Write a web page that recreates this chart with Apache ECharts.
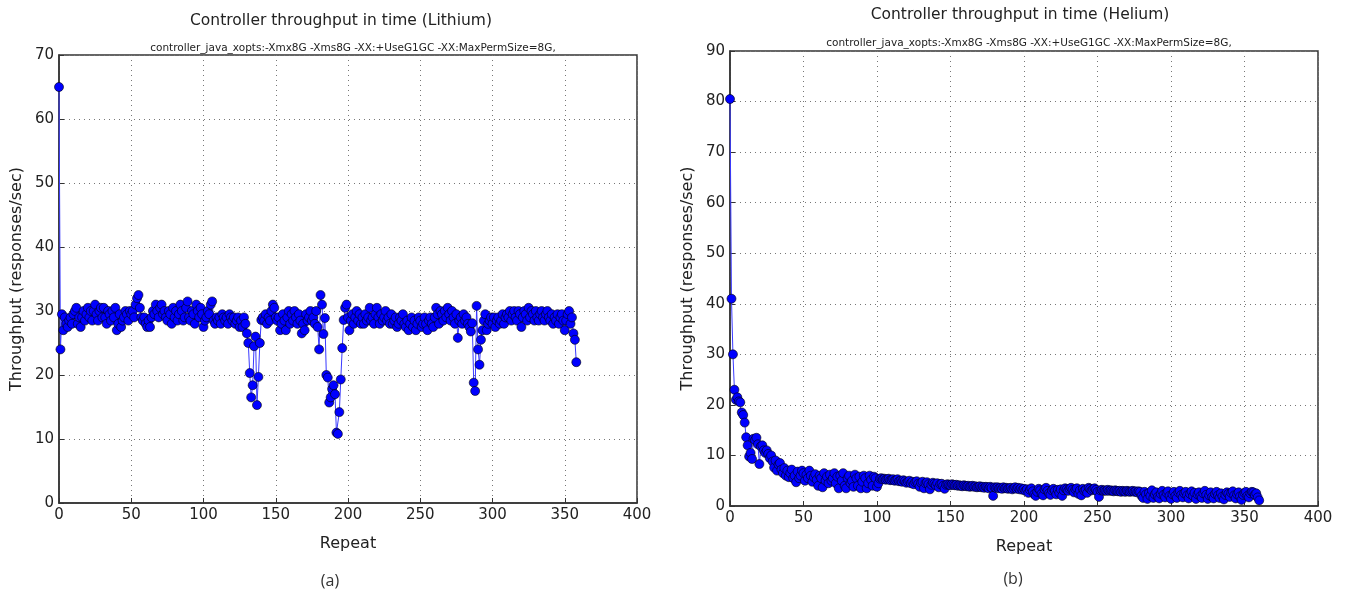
<!DOCTYPE html>
<html>
<head>
<meta charset="utf-8">
<script src="https://cdn.jsdelivr.net/npm/echarts@6/dist/echarts.min.js"></script>
<style>
html,body{margin:0;padding:0;background:#fff;}
#chart{width:1346px;height:591px;}
</style>
</head>
<body>
<div id="chart"></div>
<script>
// Lithium throughput (responses/sec) per repeat, index = repeat
const lithium = [
65, 24, 29.5, 27, 29, 28, 27.5, 28.5, 29, 28,
29.5, 30, 30.5, 28, 29, 27.5, 29, 30, 28.5, 29.5,
30.5, 29, 30, 28.5, 30, 31, 29.5, 28.5, 30, 30.5,
29, 30.5, 29, 28, 30, 29.5, 28.5, 30, 29, 30.5,
27, 28, 29.5, 27.5, 28.5, 29, 30, 29.5, 28.5, 30,
29.5, 30, 29, 31, 32, 32.5, 30.5, 29, 28.5, 29,
28, 27.5, 28.5, 27.5, 29, 30, 29.5, 31, 30, 29,
30.5, 31, 29.5, 30, 29, 28.5, 30, 29.5, 28, 30.5,
29, 30, 28.5, 29.5, 31, 30, 28.5, 29, 30.5, 31.5,
29, 28.5, 30, 29.5, 28, 31, 30, 29, 30.5, 29.5,
27.5, 28.5, 29, 30, 29.5, 31, 31.5, 28.5, 28, 29,
28.5, 29, 28, 29.5, 29, 28.5, 29, 28, 29.5, 29,
28.5, 29, 28, 28.5, 29, 27.5, 28.5, 27.5, 29, 28,
26.5, 25, 20.3, 16.5, 18.4, 24.5, 26, 15.3, 19.7, 25,
28.6, 29, 28.5, 29.5, 28, 29, 28.5, 30, 31, 30.5,
29, 28.5, 29, 27, 28, 29.5, 28.5, 27, 29, 30,
28, 29.5, 28.5, 30, 29, 28, 29.5, 28.5, 26.5, 28,
27, 29.5, 28.5, 29, 30, 28.5, 29, 28, 30, 27.5,
24, 32.5, 31, 26.4, 28.9, 20, 19.6, 15.7, 16.5, 17.8,
18.4, 17, 11, 10.8, 14.2, 19.3, 24.2, 28.6, 30.5, 31,
29, 27, 28.5, 29.5, 28, 29, 30, 28.5, 29.5, 28,
29, 28, 29.5, 28.5, 29, 30.5, 28.5, 29, 28, 29.5,
30.5, 29, 28, 29.5, 28.5, 29, 30, 28.5, 29, 28,
29.5, 28, 28.5, 29, 27.5, 28, 29, 28.5, 29.5, 28,
27.5, 28.5, 27, 28, 29, 27.5, 28.5, 27, 28, 29,
28.5, 27.5, 28, 29, 28, 27, 28.5, 29, 28, 27.5,
29, 30.5, 29.5, 28, 30, 29.5, 28.5, 30, 29, 30.5,
29.5, 28.5, 30, 29, 28, 29.5, 25.8, 28.5, 29, 28,
29.5, 28.5, 29, 28, 27.5, 26.8, 28.1, 18.8, 17.5, 30.8,
24, 21.6, 25.5, 27, 28.5, 29.5, 27, 28, 28.5, 29,
28, 29, 27.5, 28.5, 29, 28, 28.5, 29.5, 28, 29,
29.5, 29, 30, 28.5, 29.5, 30, 29, 28.5, 30, 29.5,
27.5, 29, 30, 29.5, 28.5, 30.5, 29, 30, 29.5, 28.5,
30, 29, 28.5, 29.5, 30, 29, 28.5, 29.5, 30, 29,
28.5, 29.5, 28, 29, 28.5, 29.5, 28, 29, 29.5, 28.5,
27, 28.5, 29.5, 30, 28, 29, 26.5, 25.5, 22
];

// Helium throughput (responses/sec) per repeat, index = repeat
const helium = [
80.5, 41, 30, 23, 21, 21.5, 20.7, 20.5, 18.5, 18,
16.5, 13.6, 12, 9.8, 10.5, 9.3, 13.3, 13, 13.5, 12.2,
8.3, 11.8, 12, 11, 10.5, 11, 10.3, 9.5, 10, 8.8,
7.6, 9, 7, 8.2, 8.5, 7.2, 6.5, 7.5, 6, 7,
5.7, 6.5, 7.2, 5.5, 6, 4.7, 6.8, 5.5, 6, 7,
6.5, 5, 6.2, 5.5, 7, 6, 4.8, 5.7, 6.3, 5.2,
4, 6, 5.5, 3.7, 6.5, 5, 5.8, 4.5, 6.2, 5,
5.5, 6.5, 4.5, 5.8, 3.5, 6, 5, 6.5, 4, 3.5,
5.5, 6, 4.5, 5, 3.8, 6.2, 5.5, 4, 5.8, 3.5,
4.8, 6, 5.5, 3.5, 4.5, 6, 5.2, 4, 5.8, 5.5,
3.8, 4.5, 5.4, 5.5, 5.3, 5.4, 5.2, 5.3, 5.4, 5.1,
5.2, 5.3, 5, 5.1, 5.3, 4.9, 5, 4.8, 5.1, 4.9,
4.6, 4.8, 5, 4.5, 4.8, 4.3, 4.7, 4.9, 4.4, 3.8,
4.6, 4.8, 3.5, 4.5, 4.7, 4.3, 3.3, 4.2, 4.6, 4.4,
4.1, 4.5, 3.7, 4.3, 4.4, 4, 3.4, 4.2, 4.3, 4.2,
4.1, 4.3, 4.2, 4.1, 4.2, 4, 4.1, 4, 3.9, 4.1,
4, 3.9, 4, 3.8, 3.9, 4, 3.8, 3.9, 3.7, 3.8,
3.9, 3.7, 3.8, 3.6, 3.8, 3.7, 3.5, 3.8, 3.6, 2,
3.7, 3.6, 3.7, 3.5, 3.6, 3.4, 3.7, 3.5, 3.6, 3.4,
3.5, 3.6, 3.3, 3.5, 3.7, 3.4, 3.6, 3.3, 3.5, 3.2,
3.4, 3, 3.3, 2.6, 3.2, 3.5, 2.9, 2.3, 2, 2.8,
3.4, 3.1, 2.4, 2.1, 3.3, 3.6, 3, 2.5, 2.2, 3.1,
3.4, 3, 2.3, 3.2, 2.6, 3.3, 2, 3.1, 3.5, 3.3,
3, 3.4, 3.6, 3.2, 2.7, 3.3, 3.5, 2.4, 3.1, 2.1,
3.4, 3, 3.2, 2.6, 3.6, 3.4, 3.1, 3.3, 3.5, 3.2,
2.8, 1.8, 3.1, 3.2, 3, 3.1, 3, 3.2, 3, 3.1,
3, 2.9, 3.1, 3, 2.9, 3, 2.8, 3, 2.9, 2.8,
3, 2.9, 2.8, 2.9, 3, 2.8, 2.9, 2.7, 2.9, 2.8,
2, 1.6, 2.8, 2.3, 1.4, 2.6, 2, 3.1, 1.6, 2.3,
2.7, 1.8, 1.5, 2.4, 3, 2.2, 1.7, 2.6, 2.9, 2,
1.4, 2.3, 2.8, 2, 1.6, 2.7, 3, 2.2, 1.7, 2.5,
2.8, 2.1, 1.5, 2.4, 2.9, 2, 2.6, 1.4, 2.3, 2.7,
1.9, 1.6, 2.5, 3, 2.2, 1.4, 2.1, 2.7, 1.8, 1.5,
2.4, 2.8, 2.1, 1.6, 2.5, 1.9, 1.3, 2.2, 2.7, 2.4,
1.8, 2.6, 2.9, 2.1, 1.5, 2.3, 2.7, 1.9, 1.2, 2.2,
2.6, 2.8, 2, 1.7, 2.5, 2.8, 2.7, 2.2, 2.5, 1.7,
1.1
];

const titles = ['Controller throughput in time (Lithium)', 'Controller throughput in time (Helium)'];
const subtitle = 'controller_java_xopts:-Xmx8G -Xms8G -XX:+UseG1GC -XX:MaxPermSize=8G,';
const captions = ['(a)', '(b)'];
const xLabel = 'Repeat';
const yLabel = 'Throughput (responses/sec)';

const FONT = 'DejaVu Sans';
const chart = echarts.init(document.getElementById('chart'), null, {renderer: 'canvas'});

function pairs(arr) { return arr.map((v, i) => [i, v]); }

function xAxis(gi) {
  return {
    gridIndex: gi, type: 'value', min: 0, max: 400, interval: 50,
    name: xLabel, nameLocation: 'middle', nameGap: 33,
    nameTextStyle: {fontFamily: FONT, fontSize: 16, color: '#222'},
    axisLine: {show: true, lineStyle: {color: '#333', width: 1.5}},
    axisTick: {show: true, inside: true, length: 5, lineStyle: {color: '#333'}},
    axisLabel: {fontFamily: FONT, fontSize: 15, color: '#222', margin: 5},
    splitLine: {show: true, lineStyle: {type: [1, 4], color: '#777', width: 1}}
  };
}
function yAxis(gi, max, gap) {
  return {
    gridIndex: gi, type: 'value', min: 0, max: max, interval: 10,
    name: yLabel, nameLocation: 'middle', nameGap: gap, nameRotate: 90,
    nameTextStyle: {fontFamily: FONT, fontSize: 16, color: '#222'},
    axisLine: {show: true, lineStyle: {color: '#333', width: 1.5}},
    axisTick: {show: true, inside: true, length: 5, lineStyle: {color: '#333'}},
    axisLabel: {fontFamily: FONT, fontSize: 15, color: '#222', margin: 5},
    splitLine: {show: true, lineStyle: {type: [1, 4], color: '#777', width: 1}}
  };
}
function series(gi, data) {
  return {
    type: 'line', xAxisIndex: gi, yAxisIndex: gi, data: pairs(data),
    symbol: 'circle', symbolSize: 9, showAllSymbol: true, clip: true,
    lineStyle: {color: '#3a3aff', width: 1},
    itemStyle: {color: '#0000ff', borderColor: '#000', borderWidth: 0.6},
    animation: false, silent: true
  };
}

chart.setOption({
  backgroundColor: '#fff',
  animation: false,
  title: [
    {text: titles[0], left: 336, top: 8, textAlign: 'center', textStyle: {fontFamily: FONT, fontSize: 15.5, fontWeight: 'normal', color: '#222'}},
    {text: subtitle, left: 348, top: 38, textAlign: 'center', textStyle: {fontFamily: FONT, fontSize: 10.5, fontWeight: 'normal', color: '#222'}},
    {text: titles[1], left: 1015, top: 2, textAlign: 'center', textStyle: {fontFamily: FONT, fontSize: 15.5, fontWeight: 'normal', color: '#222'}},
    {text: subtitle, left: 1024, top: 33, textAlign: 'center', textStyle: {fontFamily: FONT, fontSize: 10.5, fontWeight: 'normal', color: '#222'}},
    {text: captions[0], left: 325, top: 568, textAlign: 'center', textStyle: {fontFamily: 'Open Sans', fontSize: 16, fontWeight: 'normal', color: '#333'}},
    {text: captions[1], left: 1008, top: 566, textAlign: 'center', textStyle: {fontFamily: 'Open Sans', fontSize: 16, fontWeight: 'normal', color: '#333'}}
  ],
  grid: [
    {left: 59, top: 55, width: 578, height: 448, show: true, borderColor: '#333', borderWidth: 1.5, backgroundColor: 'transparent'},
    {left: 730, top: 51, width: 588, height: 455, show: true, borderColor: '#333', borderWidth: 1.5, backgroundColor: 'transparent'}
  ],
  xAxis: [xAxis(0), xAxis(1)],
  yAxis: [yAxis(0, 70, 34), yAxis(1, 90, 34)],
  series: [series(0, lithium), series(1, helium)]
});
</script>
</body>
</html>
